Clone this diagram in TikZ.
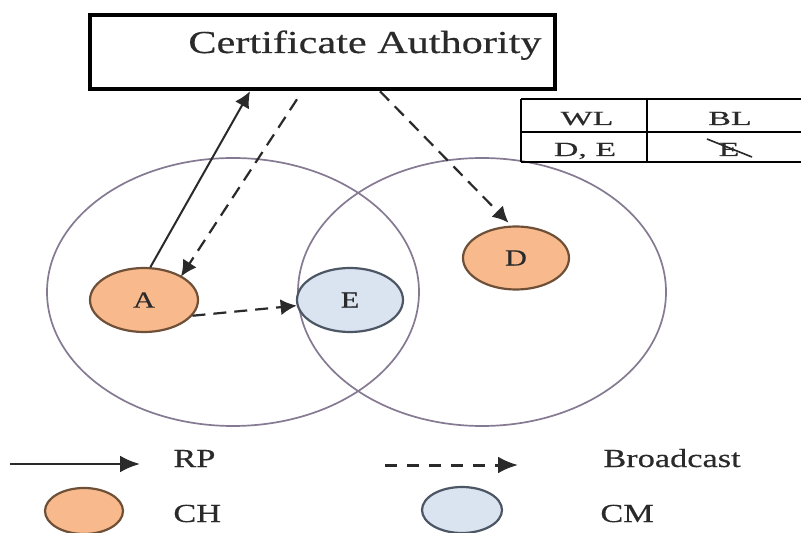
\documentclass[tikz,border=0pt]{standalone}
\usepackage{fontspec}
\setmainfont{Liberation Serif}[FakeStretch=1.32,FakeBold=0.4]
\newfontfamily\tabfont{Liberation Serif}[FakeStretch=1.7,FakeBold=0.4]
\usetikzlibrary{shapes.geometric,arrows.meta,calc}
\definecolor{chfill}{HTML}{F8BA8C}
\definecolor{chborder}{HTML}{6E5038}
\definecolor{cmfill}{HTML}{DAE4F0}
\definecolor{cmborder}{HTML}{4C5664}
\definecolor{rangec}{HTML}{857A92}
\definecolor{txt}{HTML}{2A2A2A}
\tikzset{
  chnode/.style={ellipse,draw=chborder,fill=chfill,line width=1.1pt,inner sep=0pt,
    font=\fontsize{11.5}{13}\selectfont,text=txt},
  cmnode/.style={ellipse,draw=cmborder,fill=cmfill,line width=1.1pt,inner sep=0pt,
    font=\fontsize{11.5}{13}\selectfont,text=txt},
  rangenode/.style={ellipse,draw=rangec,line width=0.85pt,inner sep=0pt},
  rparrow/.style={line width=1pt,-{Latex[length=8pt,width=8pt]},draw=txt},
  bcarrow/.style={line width=1.1pt,dash pattern=on 6.5pt off 4pt,-{Latex[length=8pt,width=8pt]},draw=txt},
  legrp/.style={line width=1.4pt,-{Latex[length=10pt,width=8.5pt]},draw=txt},
  legbc/.style={line width=1.5pt,dash pattern=on 6pt off 5pt,-{Latex[length=10pt,width=8.5pt]},draw=txt},
  legtext/.style={anchor=base west,inner sep=0pt,font=\fontsize{13}{15}\selectfont,text=txt},
  tabtext/.style={anchor=base,inner sep=0pt,font=\tabfont\fontsize{10}{12}\selectfont,text=txt},
  tabline/.style={line width=0.9pt,draw=black},
}
\begin{document}
\begin{tikzpicture}[x=0.5pt,y=-0.5pt]
\fill[white] (0,0) rectangle (801,533);
\useasboundingbox (0,0) rectangle (801,533);

% range circles
\node[rangenode,minimum width=186pt,minimum height=134pt] (r1) at (233,292) {};
\node[rangenode,minimum width=184pt,minimum height=134pt] (r2) at (482,292) {};

% certificate authority
\node[draw=black,line width=2.3pt,minimum width=232.5pt,minimum height=37pt,inner sep=0pt] (CA) at (322.5,52) {};
\node[anchor=base west,inner sep=0pt,font=\fontsize{16}{19}\selectfont,text=txt] (CAt) at (188,53) {Certificate Authority};

% table
\coordinate (t1) at (521,99);
\coordinate (t2) at (801,99);
\coordinate (t3) at (521,132);
\coordinate (t4) at (801,132);
\coordinate (t5) at (521,162);
\coordinate (t6) at (801,162);
\coordinate (t7) at (647,99);
\coordinate (t8) at (647,162);
\draw[tabline] (t1) -- (t2);
\draw[tabline] (t3) -- (t4);
\draw[tabline] (t5) -- (t6);
\draw[tabline] (t1) -- (t5);
\draw[tabline] (t7) -- (t8);
\node[tabtext] (wl) at (587,125) {WL};
\node[tabtext] (bl) at (730,125) {BL};
\node[tabtext] (de) at (585,156) {D, E};
\node[tabtext] (be) at (729,156) {E};
\coordinate (s1) at (707,139);
\coordinate (s2) at (752,157);
\draw[line width=0.8pt,draw=txt] (s1) -- (s2);

% nodes
\node[chnode,minimum width=54pt,minimum height=32pt] (A) at (144,300) {A};
\node[cmnode,minimum width=53pt,minimum height=32pt] (E) at (350,300) {E};
\node[chnode,minimum width=53pt,minimum height=31.5pt] (D) at (516,258) {D};

% connectors
\draw[rparrow] (A.79) -- ([xshift=-36.25pt]CA.south);
\draw[bcarrow] ([xshift=-12.75pt,yshift=-4pt]CA.south) -- ([xshift=-1pt]A.north east);
\draw[bcarrow] ([xshift=28.75pt]CA.south) -- ([yshift=1.5pt]D.103);
\draw[bcarrow] (A.-18) -- (E.186);

% legend
\coordinate (l1) at (10,464);
\coordinate (l2) at (140,464);
\coordinate (l3) at (385,465);
\coordinate (l4) at (518,465);
\draw[legrp] (l1) -- (l2);
\draw[legbc] (l3) -- (l4);
\node[legtext] (rp) at (173,467) {RP};
\node[legtext] (bc) at (603,467) {Broadcast};
\node[chnode,minimum width=39pt,minimum height=23pt] (ch) at (84,511) {};
\node[cmnode,minimum width=40pt,minimum height=23pt] (cm) at (462,510) {};
\node[legtext] (cht) at (173,522) {CH};
\node[legtext] (cmt) at (600,522) {CM};
\end{tikzpicture}
\end{document}
